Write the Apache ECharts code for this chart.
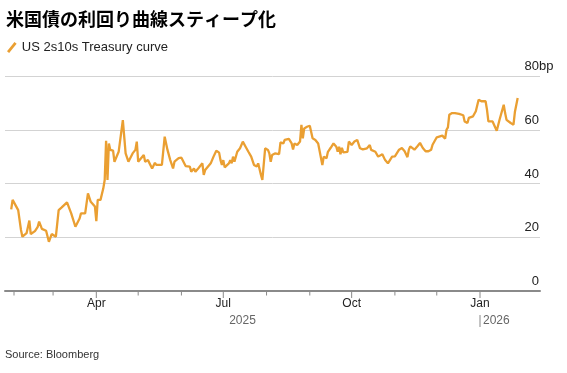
<!DOCTYPE html>
<html><head><meta charset="utf-8">
<script src="https://cdn.jsdelivr.net/npm/echarts@6/dist/echarts.min.js"></script>
<style>html,body{margin:0;padding:0;background:#fff}#c{width:567px;height:373px}</style>
</head><body><div id="c"></div><script>
const titleText = '米国債の利回り曲線スティープ化';
const seriesName = 'US 2s10s Treasury curve';
const sourceText = 'Source: Bloomberg';
const unitText = 'bp';
const yearLabels = ['2025', '2026'];
const monthNames = {0: 'Jan', 3: 'Apr', 6: 'Jul', 9: 'Oct'};
const tickMonths = ['2025-02-01','2025-03-01','2025-04-01','2025-05-01','2025-06-01','2025-07-01',
  '2025-08-01','2025-09-01','2025-10-01','2025-11-01','2025-12-01','2026-01-01'];
const quarterMonths = ['2025-04-01','2025-07-01','2025-10-01','2026-01-01'];
const yMin = 0, yMax = 80, yStep = 20;
const xMin = '2025-01-25 13:00';
const xMax = '2026-02-13';

const dates = [
'2025-01-30','2025-01-31','2025-02-04','2025-02-05','2025-02-06','2025-02-07','2025-02-10','2025-02-12','2025-02-13','2025-02-16',
'2025-02-18','2025-02-19','2025-02-21','2025-02-24','2025-02-26','2025-02-28','2025-03-03','2025-03-05','2025-03-07','2025-03-08',
'2025-03-11','2025-03-14','2025-03-17','2025-03-20','2025-03-21','2025-03-24','2025-03-26','2025-03-28','2025-03-31','2025-04-01',
'2025-04-02','2025-04-04','2025-04-06','2025-04-07','2025-04-08','2025-04-09','2025-04-10','2025-04-11','2025-04-12','2025-04-13',
'2025-04-14','2025-04-17','2025-04-20','2025-04-22','2025-04-23','2025-04-24','2025-04-27','2025-04-29','2025-04-30','2025-05-01',
'2025-05-02','2025-05-05','2025-05-06','2025-05-08','2025-05-11','2025-05-13','2025-05-14','2025-05-18','2025-05-20','2025-05-22',
'2025-05-24','2025-05-26','2025-05-27','2025-05-30','2025-06-01','2025-06-04','2025-06-07','2025-06-08','2025-06-10','2025-06-11',
'2025-06-13','2025-06-16','2025-06-17','2025-06-18','2025-06-22','2025-06-23','2025-06-24','2025-06-26','2025-06-28','2025-06-29',
'2025-06-30','2025-07-01','2025-07-02','2025-07-05','2025-07-06','2025-07-07','2025-07-08','2025-07-09','2025-07-11','2025-07-13',
'2025-07-15','2025-07-17','2025-07-19','2025-07-21','2025-07-23','2025-07-25','2025-07-26','2025-07-28','2025-07-29','2025-07-31',
'2025-08-02','2025-08-03','2025-08-04','2025-08-05','2025-08-07','2025-08-10','2025-08-11','2025-08-13','2025-08-14','2025-08-17',
'2025-08-19','2025-08-20','2025-08-21','2025-08-23','2025-08-25','2025-08-26','2025-08-27','2025-08-28','2025-08-30','2025-09-01',
'2025-09-03','2025-09-05','2025-09-07','2025-09-10','2025-09-11','2025-09-13','2025-09-14','2025-09-16','2025-09-18','2025-09-20',
'2025-09-21','2025-09-22','2025-09-23','2025-09-24','2025-09-25','2025-09-28','2025-09-29','2025-10-01','2025-10-03','2025-10-05',
'2025-10-07','2025-10-08','2025-10-09','2025-10-12','2025-10-14','2025-10-15','2025-10-18','2025-10-20','2025-10-23','2025-10-25',
'2025-10-27','2025-10-30','2025-11-01','2025-11-04','2025-11-06','2025-11-08','2025-11-10','2025-11-11','2025-11-12','2025-11-15',
'2025-11-17','2025-11-19','2025-11-21','2025-11-22','2025-11-23','2025-11-25','2025-11-27','2025-11-28','2025-12-01','2025-12-02',
'2025-12-05','2025-12-06','2025-12-07','2025-12-08','2025-12-09','2025-12-10','2025-12-12','2025-12-14','2025-12-15','2025-12-17',
'2025-12-18','2025-12-20','2025-12-21','2025-12-23','2025-12-24','2025-12-27','2025-12-29','2025-12-31','2026-01-02','2026-01-05',
'2026-01-06','2026-01-07','2026-01-08','2026-01-10','2026-01-11','2026-01-13','2026-01-15','2026-01-18','2026-01-19','2026-01-20',
'2026-01-23','2026-01-25','2026-01-26','2026-01-27','2026-01-28'
];
const values = [
30.4,33.9,30.1,29.5,22.7,20.2,21.5,26.2,21.2,22.3,
23.9,25.8,23.1,22.4,18.3,21.2,20.2,30.1,31.0,30.5,
33.0,28.9,23.9,27.0,28.9,28.9,36.3,33.2,31.4,26.0,
33.9,33.9,38.2,41.3,55.9,41.3,54.9,52.5,52.2,52.2,
48.1,51.8,63.6,51.2,51.0,48.1,51.2,52.5,55.6,48.1,
48.7,50.6,48.1,48.7,45.6,47.7,46.9,46.9,57.4,52.5,
48.7,45.6,48.1,49.4,49.6,46.5,46.3,44.4,45.6,44.4,
45.6,47.5,43.2,45.0,47.5,47.1,50.0,52.2,51.5,48.7,
46.9,48.7,46.0,47.5,48.7,47.5,50.0,48.1,51.8,53.1,
55.6,53.7,51.8,50.0,46.9,46.3,47.5,43.2,41.3,53.1,
52.5,51.2,48.1,50.6,51.2,50.9,55.3,54.9,56.2,56.6,
54.9,52.7,54.9,54.3,55.6,61.8,56.8,60.5,61.1,61.5,
56.8,56.2,54.9,46.9,50.0,49.4,51.8,53.3,54.9,53.7,
51.8,53.7,50.9,53.3,51.6,51.8,55.6,54.3,55.6,56.2,
53.1,53.7,52.7,53.1,54.3,52.5,51.8,50.0,50.9,48.7,
47.5,50.0,50.1,52.6,53.2,52.0,49.8,52.6,53.8,52.6,
53.8,55.1,53.2,53.8,52.0,52.0,52.6,54.4,57.2,56.9,
57.8,58.2,56.7,60.0,60.9,65.6,66.2,66.2,66.6,65.9,
66.2,65.4,63.1,62.5,64.4,65.0,66.9,71.2,70.6,70.6,
67.5,63.1,63.4,63.1,63.7,59.6,63.7,69.3,66.2,63.7,
62.5,61.9,66.6,66.6,71.8
];

const FONT = '"Liberation Sans", Arial, Helvetica, sans-serif';
const ORANGE = '#EA9F32';
const chart = echarts.init(document.getElementById('c'), null, {renderer: 'canvas'});
const lineData = dates.map((d, i) => [d, values[i]]);
const tickData = tickMonths.map(d => [d, quarterMonths.indexOf(d) >= 0 ? 1 : 0]);

chart.setOption({
  animation: false,
  backgroundColor: '#fff',
  title: {
    text: titleText, left: 1, top: 5,
    textStyle: {fontFamily: '"Noto Sans CJK JP", sans-serif', fontSize: 18, fontWeight: 'bold', color: '#000'}
  },
  legend: {
    data: [{name: seriesName, icon: 'path://M0,9.5 L7.6,0 L9.8,1.7 L2.2,11.2 Z'}],
    left: 2, top: 36, itemWidth: 10, itemHeight: 11, itemGap: 10,
    textStyle: {fontFamily: FONT, fontSize: 13, color: '#222'}
  },
  grid: {left: 5, right: 27, top: 76, bottom: 82, containLabel: false},
  xAxis: {
    type: 'time', min: xMin, max: xMax,
    minInterval: 28 * 864e5, maxInterval: 31 * 864e5,
    axisLine: {show: true, lineStyle: {color: '#8a8a8a', width: 2}},
    axisTick: {show: false},
    splitLine: {show: false},
    axisLabel: {
      showMinLabel: false, showMaxLabel: false, hideOverlap: false,
      fontFamily: FONT, fontSize: 12, color: '#222', margin: 7,
      formatter: function (v) {
        const d = new Date(v);
        if (d.getDate() !== 1) return '';
        return monthNames[d.getMonth()] || '';
      }
    }
  },
  yAxis: {
    type: 'value', min: yMin, max: yMax, interval: yStep, position: 'right',
    axisLine: {show: false}, axisTick: {show: false},
    splitLine: {show: true, lineStyle: {color: '#d3d3d3', width: 1}},
    axisLabel: {
      inside: true, margin: 1, fontFamily: FONT, fontSize: 13, color: '#222',
      verticalAlign: 'bottom', padding: [0, 0, 3, 0]
    }
  },
  series: [
    {
      name: seriesName, type: 'line', data: lineData, showSymbol: false, symbol: 'none',
      lineStyle: {color: ORANGE, width: 2.3}, itemStyle: {color: ORANGE}, z: 3
    },
    {
      name: 'ticks', type: 'custom', data: tickData, silent: true, clip: false,
      encode: {x: 0}, z: 4,
      renderItem: function (params, api) {
        const p = api.coord([api.value(0), 0]);
        const len = api.value(1) ? 6 : 3.5;
        return {type: 'line', shape: {x1: p[0], y1: p[1], x2: p[0], y2: p[1] + 1 + len},
          style: {stroke: '#8a8a8a', lineWidth: 1}};
      }
    }
  ]
});

const pMin = chart.convertToPixel({xAxisIndex: 0}, xMin);
const pJan = chart.convertToPixel({xAxisIndex: 0}, '2026-01-01');
const p80 = chart.convertToPixel({yAxisIndex: 0}, yMax);
const gridRight = chart.convertToPixel({xAxisIndex: 0}, xMax);
const yearY = chart.convertToPixel({yAxisIndex: 0}, yMin) + 30;
chart.setOption({
  graphic: [
    {type: 'text', left: 5, top: 349, style: {text: sourceText, font: '11px ' + FONT, fill: '#333'}},
    {type: 'text', x: gridRight - 1, y: p80 - 3, style: {text: unitText, font: '13px ' + FONT, fill: '#222', textAlign: 'left', textVerticalAlign: 'bottom'}},
    {type: 'text', x: (pMin + pJan) / 2, y: yearY, style: {text: yearLabels[0], font: '12px ' + FONT, fill: '#666', textAlign: 'center', textVerticalAlign: 'middle'}},
    {type: 'line', shape: {x1: pJan, y1: yearY - 6, x2: pJan, y2: yearY + 6}, style: {stroke: '#888', lineWidth: 1}},
    {type: 'text', x: pJan + 3, y: yearY, style: {text: yearLabels[1], font: '12px ' + FONT, fill: '#666', textAlign: 'left', textVerticalAlign: 'middle'}}
  ]
});
</script></body></html>
